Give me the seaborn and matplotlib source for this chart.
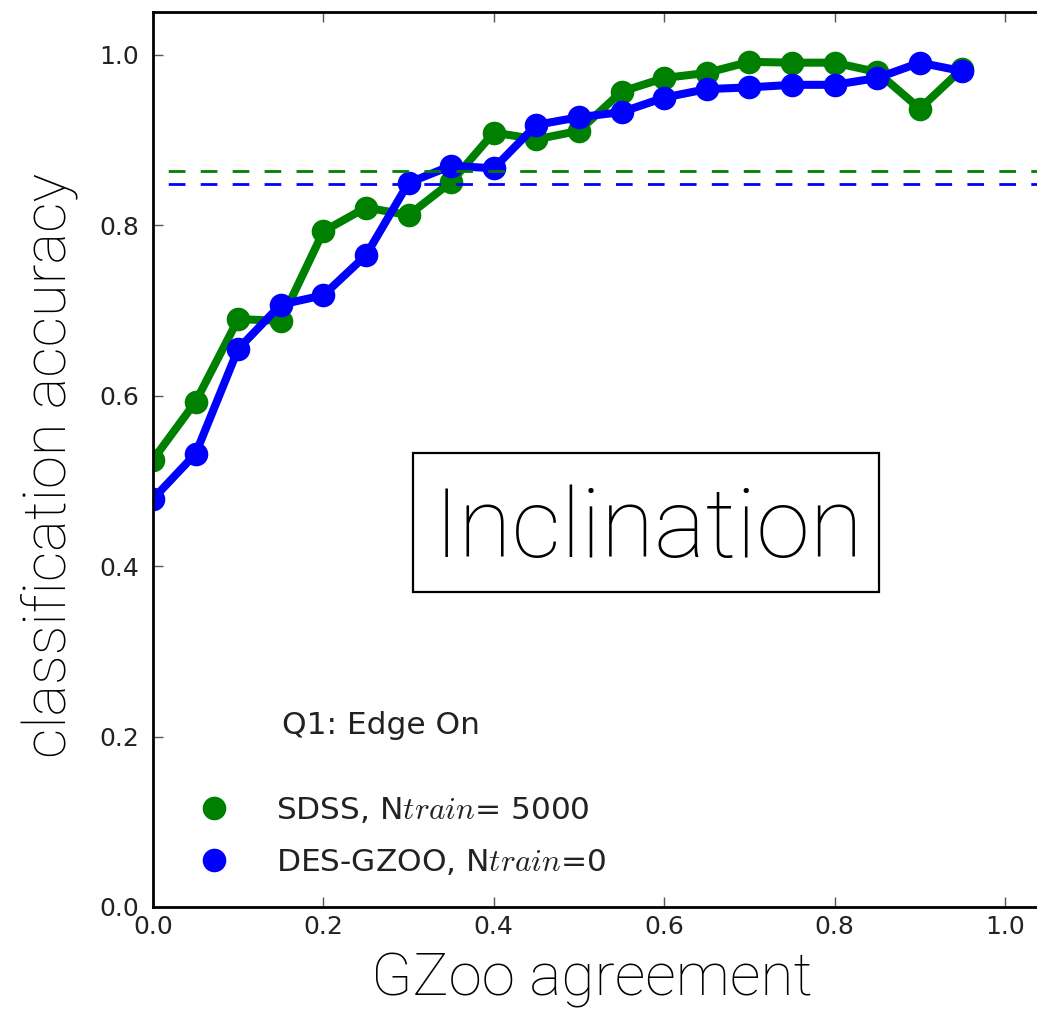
import numpy as np
import pandas as pd
import matplotlib
matplotlib.use("Agg")
import matplotlib.pyplot as plt
from matplotlib.lines import Line2D
from matplotlib.patches import Rectangle
import seaborn as sns

# ---- data ----
agreement = [0.0, 0.05, 0.1, 0.15, 0.2, 0.25, 0.3, 0.35, 0.4, 0.45,
             0.5, 0.55, 0.6, 0.65, 0.7, 0.75, 0.8, 0.85, 0.9, 0.95]
sdss_acc = [0.525, 0.593, 0.690, 0.688, 0.793, 0.821, 0.812, 0.851, 0.909, 0.901,
            0.911, 0.957, 0.973, 0.979, 0.992, 0.991, 0.991, 0.980, 0.937, 0.984]
des_acc = [0.479, 0.532, 0.655, 0.707, 0.718, 0.765, 0.850, 0.870, 0.867, 0.918,
           0.927, 0.933, 0.950, 0.960, 0.962, 0.965, 0.965, 0.973, 0.991, 0.981]
sdss_mean = 0.864
des_mean = 0.849
series_names = ["SDSS", "DES-GZOO"]
legend_labels = [r"SDSS, N$train$= 5000", r"DES-GZOO, N$train$=0"]
colors = {"SDSS": "#008000", "DES-GZOO": "#0000ff"}
xticks = [0.0, 0.2, 0.4, 0.6, 0.8, 1.0]
yticks = [0.0, 0.2, 0.4, 0.6, 0.8, 1.0]

df = pd.DataFrame({
    "agreement": agreement * 2,
    "accuracy": sdss_acc + des_acc,
    "survey": [series_names[0]] * len(agreement) + [series_names[1]] * len(agreement),
})

sns.set_style("ticks")
plt.rcParams["font.family"] = ["DejaVu Sans"]
plt.rcParams["mathtext.fontset"] = "cm"

W, H = 1037, 1017
fig = plt.figure(figsize=(W / 100, H / 100), dpi=100)
ppu = 852.0
ax = fig.add_axes([153 / W, (H - 907) / H, 1.05 * ppu / W, 1.05 * ppu / H])

sns.lineplot(data=df, x="agreement", y="accuracy", hue="survey",
             hue_order=series_names, palette=colors, marker="o",
             markersize=17, markeredgewidth=0, linewidth=5.8,
             legend=False, ax=ax)

for val, name in [(sdss_mean, "SDSS"), (des_mean, "DES-GZOO")]:
    ax.axhline(val, color=colors[name], lw=2.0, ls=(6, (6, 5.5)), zorder=5)

ax.set_xlim(0, 1.05)
ax.set_ylim(0, 1.05)
ax.set_xticks(xticks)
ax.set_yticks(yticks)
ax.set_xticklabels([f"{t:.1f}" for t in xticks])
ax.set_yticklabels([f"{t:.1f}" for t in yticks])
ax.tick_params(axis="both", direction="in", length=7, width=1.0, color="#555555",
               labelsize=18, labelcolor="#222222", top=True, right=True)
ax.tick_params(axis="x", pad=6)
ax.tick_params(axis="y", pad=10)
for sp in ax.spines.values():
    sp.set_linewidth(2.0)
    sp.set_color("black")

label_font = dict(family=["Roboto", "Liberation Sans", "DejaVu Sans"], weight="light")
ax.set_xlabel("GZoo agreement", fontsize=43.5, color="black", **label_font)
ax.xaxis.set_label_coords((592 - 153) / (1.05 * ppu), (907 - 996) / (1.05 * ppu))
ax.xaxis.label.set_va("baseline")
ax.set_ylabel("classification accuracy", fontsize=43, color="black", **label_font)
ax.yaxis.set_label_coords((66 - 153) / (1.05 * ppu), (907 - 465) / (1.05 * ppu))
ax.yaxis.label.set_va("baseline")

# Inclination box
ax.add_patch(Rectangle((0.2906, 0.3521), 0.8115 - 0.2906, 0.5075 - 0.3521,
                       transform=ax.transAxes, fill=False, lw=1.6,
                       edgecolor="black", zorder=6))
ax.text(0.5539, 0.3915, "Inclination", transform=ax.transAxes, ha="center",
        va="baseline", fontsize=70, color="black", zorder=7, **label_font)

ax.text(0.151, 0.203, "Q1: Edge On", transform=ax.transData, fontsize=22.5,
        color="#222222", va="baseline", ha="left")

handles = [Line2D([], [], ls="", marker="o", markersize=17, markeredgewidth=0,
                  color=colors[n]) for n in series_names]
ax.legend(handles, legend_labels, loc="lower left",
          bbox_to_anchor=(0.033, 0.034), frameon=False, fontsize=22.5,
          borderpad=0, borderaxespad=0, handletextpad=1.0, labelspacing=0.7,
          numpoints=1, labelcolor="#222222")

fig.savefig("out.png", dpi=100)
